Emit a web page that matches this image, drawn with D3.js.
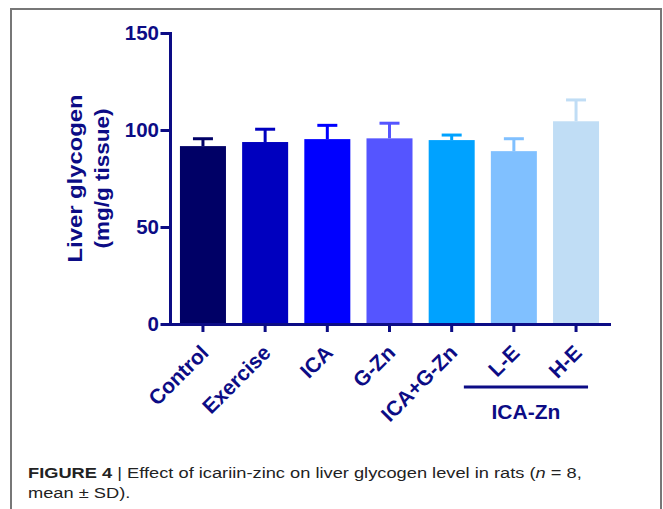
<!DOCTYPE html>
<html><head><meta charset="utf-8">
<script src="https://cdn.jsdelivr.net/npm/d3@7"></script>
<style>html,body{margin:0;padding:0;background:#fff;} svg{display:block}</style>
</head><body>
<script>
// ---- data ----
const categories = ["Control", "Exercise", "ICA", "G-Zn", "ICA+G-Zn", "L-E", "H-E"];
const means = [91.7, 93.8, 95.3, 95.7, 94.8, 89.1, 104.5];
const sds = [3.8, 6.6, 7.1, 7.8, 2.6, 6.4, 11.0];
const barColors = ["#000066", "#0000BF", "#0000FF", "#5555FF", "#00A2FF", "#80C0FF", "#C0DDF5"];
const yTicks = [0, 50, 100, 150];
const yLabelLines = ["Liver glycogen", "(mg/g tissue)"];
const groupLabel = "ICA-Zn";
const groupMembers = ["L-E", "H-E"];
const captionBold = "FIGURE 4";
const captionLine1 = " | Effect of icariin-zinc on liver glycogen level in rats (";
const captionItalic = "n";
const captionLine1End = " = 8,";
const captionLine2 = "mean \u00B1 SD).";

// ---- layout ----
const W = 663, H = 509;
const navy = "#0c0c85";
const font = "'Liberation Sans', Arial, Helvetica, sans-serif";
const svg = d3.select("body").append("svg").attr("width", W).attr("height", H);
svg.append("rect").attr("width", W).attr("height", H).attr("fill", "#fff");

// frame
svg.append("path").attr("d", "M11,515V9H661V515")
  .attr("fill", "none").attr("stroke", "#777").attr("stroke-width", 2);

const x = d3.scaleBand().domain(categories).range([170, 609]).paddingInner(0.26).paddingOuter(0.16);
const y = d3.scaleLinear().domain([0, 150]).range([324, 33]);

const data = categories.map((c, i) => ({ c, m: means[i], sd: sds[i], col: barColors[i] }));

// bars
svg.append("g").selectAll("rect").data(data).join("rect")
  .attr("x", d => x(d.c)).attr("width", x.bandwidth())
  .attr("y", d => y(d.m)).attr("height", d => y(0) - y(d.m))
  .attr("fill", d => d.col);

// error bars (upper only)
const eb = svg.append("g").selectAll("g").data(data).join("g");
eb.append("line")
  .attr("x1", d => x(d.c) + x.bandwidth() / 2).attr("x2", d => x(d.c) + x.bandwidth() / 2)
  .attr("y1", d => y(d.m)).attr("y2", d => y(d.m + d.sd))
  .attr("stroke", d => d.col).attr("stroke-width", 3);
eb.append("line")
  .attr("x1", d => x(d.c) + x.bandwidth() / 2 - 10).attr("x2", d => x(d.c) + x.bandwidth() / 2 + 10)
  .attr("y1", d => y(d.m + d.sd)).attr("y2", d => y(d.m + d.sd))
  .attr("stroke", d => d.col).attr("stroke-width", 3);

// y axis
const gy = svg.append("g").attr("transform", "translate(170,0)")
  .call(d3.axisLeft(y).tickValues(yTicks).tickSize(8).tickSizeOuter(0).tickPadding(3));
gy.selectAll("path,line").attr("stroke", navy).attr("stroke-width", 3).attr("stroke-linecap", "square");
gy.selectAll("text").attr("fill", navy).style("font-family", font).style("font-weight", "bold").style("font-size", "20.5px");

// x axis
const gx = svg.append("g").attr("transform", "translate(0,324)")
  .call(d3.axisBottom(x).tickSize(8).tickSizeOuter(0));
gx.selectAll("path,line").attr("stroke", navy).attr("stroke-width", 3);
gx.select("path").attr("stroke-linecap", "square");
gx.selectAll("text")
  .attr("x", 0).attr("y", 0).attr("dy", 0)
  .attr("transform", "translate(7,30) rotate(-45)")
  .style("text-anchor", "end")
  .attr("fill", navy).style("font-family", font).style("font-weight", "bold").style("font-size", "21px");

// y label
const yl = svg.append("g").attr("transform", "translate(0," + ((y(0) + y(150)) / 2) + ") rotate(-90)");
const ylBase = [82, 108.5];
const ylLen = [168, 140];
yLabelLines.forEach((t, i) => {
  yl.append("text").attr("x", 0).attr("y", ylBase[i])
    .attr("text-anchor", "middle")
    .attr("textLength", ylLen[i]).attr("lengthAdjust", "spacingAndGlyphs")
    .attr("fill", navy).style("font-family", font).style("font-weight", "bold").style("font-size", "20.5px")
    .text(t);
});

// group annotation
const gStart = x(groupMembers[0]) + x.bandwidth() / 2 - 50;
const gEnd = x(groupMembers[1]) + x.bandwidth() / 2 + 12;
svg.append("line").attr("x1", gStart).attr("x2", gEnd).attr("y1", 387).attr("y2", 387)
  .attr("stroke", navy).attr("stroke-width", 3);
svg.append("text").attr("x", (gStart + gEnd) / 2).attr("y", 419).attr("text-anchor", "middle")
  .attr("fill", navy).style("font-family", font).style("font-weight", "bold").style("font-size", "21px")
  .text(groupLabel);

// caption
const cap1 = svg.append("text").attr("x", 28).attr("y", 478)
  .attr("fill", "#222").style("font-family", font).style("font-size", "15px");
cap1.append("tspan").style("font-weight", "bold").text(captionBold);
cap1.append("tspan").text(captionLine1);
cap1.append("tspan").style("font-style", "italic").text(captionItalic);
cap1.append("tspan").text(captionLine1End);
const w1 = cap1.node().getComputedTextLength();
const s1 = 554 / w1;
cap1.attr("transform", "translate(28,0) scale(" + s1 + ",1) translate(-28,0)");
svg.append("text").attr("x", 28).attr("y", 498)
  .attr("fill", "#222").style("font-family", font).style("font-size", "15px")
  .attr("transform", "translate(28,0) scale(" + s1 + ",1) translate(-28,0)")
  .text(captionLine2);
</script>
</body></html>
